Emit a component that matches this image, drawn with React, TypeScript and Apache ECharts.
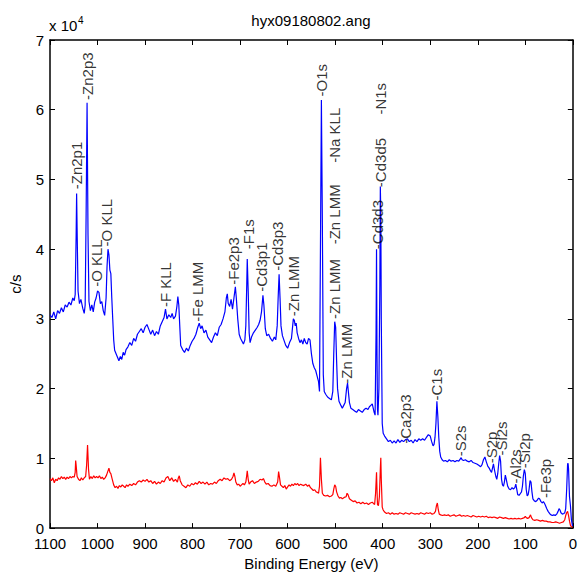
import React, { useEffect, useRef } from 'react';
import * as echarts from 'echarts';

const chartTitle = 'hyx09180802.ang';
const xName = 'Binding Energy (eV)';
const yName = 'c/s';
const yExponent = '4';

// [binding energy (eV), counts (x 10^4 c/s)]
const blue: [number, number][] = [
  [1100, 3.06], [1096, 3.02], [1092, 3.10], [1088, 3.00], [1084, 3.12], [1080, 3.08], [1076, 3.16], [1072, 3.10],
  [1068, 3.20], [1064, 3.17], [1060, 3.24], [1056, 3.20], [1052, 3.30], [1049, 3.26], [1047, 3.35], [1045, 4.2],
  [1044, 4.80], [1043, 4.3], [1041, 3.40], [1038, 3.22], [1035, 3.28], [1031, 3.15], [1028, 3.08], [1026, 3.20],
  [1024, 4.5], [1022, 6.10], [1020, 4.2], [1018, 3.25], [1015, 3.12], [1012, 3.20], [1009, 3.10], [1006, 3.24],
  [1003, 3.30], [1000, 3.40], [997, 3.38], [994, 3.22], [991, 3.25], [988, 3.12], [985, 3.05], [982, 3.3],
  [980, 3.75], [978, 4.0], [976, 3.92], [974, 3.7], [972, 3.65], [970, 3.3], [968, 3.0], [966, 2.7],
  [964, 2.55], [961, 2.50], [958, 2.45], [955, 2.40], [952, 2.46], [949, 2.42], [946, 2.52], [943, 2.48],
  [940, 2.56], [936, 2.60], [932, 2.66], [928, 2.62], [924, 2.72], [920, 2.68], [916, 2.78], [912, 2.82],
  [908, 2.86], [904, 2.80], [900, 2.88], [896, 2.92], [892, 2.85], [888, 2.78], [884, 2.84], [880, 2.76],
  [876, 2.82], [872, 2.78], [868, 2.90], [864, 2.96], [860, 3.02], [857, 3.14], [854, 3.00], [850, 3.06],
  [846, 3.02], [843, 3.08], [840, 3.00], [836, 3.04], [833, 3.18], [831, 3.32], [829, 3.20], [827, 2.90],
  [825, 2.62], [821, 2.56], [817, 2.52], [813, 2.58], [809, 2.54], [805, 2.62], [801, 2.68], [797, 2.72],
  [793, 2.78], [789, 2.88], [786, 2.94], [783, 2.86], [780, 2.90], [776, 2.80], [772, 2.84], [768, 2.74],
  [764, 2.70], [760, 2.66], [756, 2.74], [752, 2.80], [748, 2.76], [744, 2.88], [740, 2.92], [736, 3.00],
  [732, 3.10], [729, 3.30], [727, 3.36], [725, 3.22], [722, 3.18], [719, 3.28], [716, 3.14], [713, 3.30],
  [710, 3.46], [708, 3.30], [705, 3.00], [702, 2.78], [699, 2.72], [696, 2.68], [693, 2.64], [690, 2.70],
  [688, 2.90], [686, 3.50], [685, 3.86], [683, 3.40], [681, 2.80], [679, 2.66], [676, 2.74], [672, 2.80],
  [668, 2.84], [664, 2.88], [661, 2.92], [658, 2.98], [655, 3.10], [652, 3.34], [650, 3.20], [647, 2.86],
  [644, 2.76], [640, 2.78], [636, 2.72], [632, 2.68], [628, 2.74], [625, 2.70], [622, 2.90], [620, 3.30],
  [618, 3.64], [616, 3.30], [614, 2.90], [611, 2.76], [608, 2.70], [604, 2.62], [600, 2.58], [596, 2.66],
  [592, 2.72], [590, 2.86], [588, 3.00], [586, 2.98], [584, 2.90], [582, 2.94], [580, 2.80], [577, 2.72],
  [574, 2.66], [571, 2.70], [568, 2.64], [565, 2.72], [562, 2.66], [559, 2.64], [556, 2.72], [553, 2.70],
  [550, 2.50], [547, 2.36], [544, 2.30], [541, 2.26], [538, 2.18], [535, 2.10], [533, 1.96], [531, 4.0],
  [529, 6.14], [527, 4.4], [525, 2.2], [523, 1.96], [520, 1.92], [516, 1.88], [512, 1.86], [508, 1.84],
  [505, 1.96], [503, 2.5], [501, 2.96], [499, 2.88], [497, 2.4], [495, 2.0], [492, 1.82], [488, 1.76],
  [485, 1.72], [482, 1.76], [479, 1.80], [476, 2.00], [474, 2.08], [472, 1.94], [470, 1.80], [467, 1.72],
  [463, 1.70], [459, 1.68], [455, 1.66], [451, 1.70], [447, 1.68], [443, 1.66], [439, 1.70], [435, 1.72],
  [431, 1.70], [428, 1.74], [425, 1.76], [422, 1.78], [420, 1.72], [418, 1.66], [416, 1.62], [414, 2.8],
  [413, 4.00], [412, 2.5], [411, 1.70], [410, 1.62], [408, 2.0], [406, 3.5], [405, 4.90], [404, 4.5],
  [403, 3.0], [401, 1.50], [399, 1.36], [396, 1.32], [392, 1.28], [388, 1.24], [384, 1.26], [380, 1.22],
  [376, 1.25], [372, 1.22], [368, 1.27], [364, 1.23], [360, 1.26], [356, 1.24], [352, 1.27], [348, 1.28],
  [344, 1.24], [340, 1.26], [336, 1.22], [332, 1.27], [328, 1.24], [324, 1.28], [320, 1.26], [316, 1.28],
  [312, 1.26], [308, 1.30], [304, 1.34], [300, 1.32], [297, 1.24], [294, 1.18], [292, 1.20], [290, 1.30],
  [288, 1.50], [286, 1.82], [284, 1.60], [282, 1.30], [280, 1.10], [278, 1.02], [275, 0.98], [272, 0.96],
  [268, 0.97], [264, 0.95], [260, 0.98], [256, 0.96], [252, 0.97], [248, 0.95], [244, 0.97], [240, 0.96],
  [237, 0.99], [235, 1.01], [233, 0.98], [230, 0.97], [226, 0.98], [222, 0.96], [218, 0.95], [214, 0.97],
  [210, 0.94], [206, 0.93], [202, 0.92], [198, 0.90], [194, 0.88], [191, 0.91], [188, 0.98], [185, 1.02],
  [182, 0.95], [179, 0.89], [176, 0.86], [173, 0.82], [171, 0.80], [169, 0.86], [167, 0.92], [165, 0.84],
  [162, 0.74], [160, 0.70], [158, 0.78], [156, 0.92], [154, 1.04], [152, 0.96], [150, 0.70], [148, 0.62],
  [146, 0.60], [144, 0.66], [142, 0.76], [140, 0.70], [137, 0.60], [134, 0.56], [131, 0.55], [128, 0.58],
  [125, 0.56], [122, 0.58], [120, 0.63], [118, 0.56], [116, 0.48], [113, 0.47], [110, 0.50], [108, 0.52],
  [106, 0.60], [104, 0.75], [102, 0.84], [100, 0.78], [98, 0.55], [96, 0.46], [94, 0.48], [92, 0.56],
  [90, 0.68], [88, 0.66], [86, 0.52], [84, 0.42], [81, 0.39], [78, 0.38], [75, 0.40], [72, 0.43],
  [70, 0.42], [67, 0.38], [64, 0.36], [62, 0.38], [60, 0.36], [58, 0.33], [55, 0.28], [52, 0.24],
  [49, 0.21], [46, 0.19], [43, 0.18], [40, 0.19], [37, 0.18], [34, 0.20], [31, 0.24], [29, 0.28],
  [27, 0.26], [25, 0.22], [22, 0.20], [19, 0.21], [17, 0.22], [15, 0.28], [13, 0.55], [11, 0.92],
  [10, 0.93], [9, 0.85], [7, 0.45], [5, 0.32], [3, 0.12], [1, 0.04], [0, 0.03],
];

const red: [number, number][] = [
  [1100, 0.71], [1097, 0.68], [1094, 0.72], [1091, 0.65], [1088, 0.70], [1085, 0.68], [1082, 0.72], [1079, 0.70],
  [1076, 0.74], [1073, 0.71], [1070, 0.73], [1067, 0.70], [1064, 0.73], [1061, 0.71], [1058, 0.74], [1055, 0.72],
  [1052, 0.74], [1049, 0.73], [1047, 0.80], [1046, 0.97], [1045, 0.90], [1043, 0.74], [1040, 0.70], [1037, 0.68],
  [1034, 0.72], [1031, 0.69], [1028, 0.72], [1025, 0.74], [1023, 0.90], [1021, 1.19], [1019, 0.85], [1017, 0.70],
  [1014, 0.74], [1011, 0.71], [1008, 0.75], [1005, 0.72], [1002, 0.74], [999, 0.72], [996, 0.75], [993, 0.71],
  [990, 0.73], [987, 0.70], [984, 0.72], [981, 0.76], [978, 0.82], [976, 0.86], [974, 0.80], [972, 0.78],
  [969, 0.70], [966, 0.62], [963, 0.58], [960, 0.60], [957, 0.57], [954, 0.61], [951, 0.59], [948, 0.62],
  [945, 0.60], [942, 0.58], [939, 0.62], [936, 0.60], [932, 0.63], [928, 0.61], [924, 0.64], [920, 0.62],
  [916, 0.66], [912, 0.68], [908, 0.66], [904, 0.69], [900, 0.67], [896, 0.70], [892, 0.66], [888, 0.68],
  [884, 0.64], [880, 0.67], [876, 0.63], [872, 0.66], [868, 0.64], [864, 0.68], [860, 0.66], [856, 0.72],
  [852, 0.74], [848, 0.68], [844, 0.72], [840, 0.67], [836, 0.70], [832, 0.66], [830, 0.72], [828, 0.75],
  [826, 0.68], [822, 0.62], [818, 0.60], [814, 0.58], [810, 0.62], [806, 0.60], [802, 0.64], [798, 0.62],
  [794, 0.65], [790, 0.63], [786, 0.67], [782, 0.64], [778, 0.66], [774, 0.63], [770, 0.66], [766, 0.62],
  [762, 0.64], [758, 0.63], [754, 0.66], [750, 0.64], [746, 0.68], [742, 0.70], [738, 0.68], [734, 0.72],
  [730, 0.70], [726, 0.71], [722, 0.68], [718, 0.70], [715, 0.74], [713, 0.79], [711, 0.74], [709, 0.66],
  [706, 0.62], [703, 0.63], [700, 0.60], [697, 0.62], [694, 0.64], [691, 0.62], [688, 0.66], [686, 0.76],
  [685, 0.82], [683, 0.70], [681, 0.63], [678, 0.66], [674, 0.68], [670, 0.64], [666, 0.66], [662, 0.67],
  [658, 0.70], [654, 0.69], [651, 0.71], [648, 0.66], [645, 0.63], [641, 0.64], [637, 0.61], [633, 0.60],
  [629, 0.62], [625, 0.60], [621, 0.66], [619, 0.81], [617, 0.72], [615, 0.62], [612, 0.60], [609, 0.58],
  [606, 0.61], [603, 0.56], [600, 0.59], [597, 0.62], [594, 0.60], [591, 0.63], [588, 0.61], [585, 0.64],
  [582, 0.62], [579, 0.64], [576, 0.61], [573, 0.63], [570, 0.62], [566, 0.61], [562, 0.63], [558, 0.60],
  [555, 0.62], [552, 0.58], [549, 0.56], [546, 0.54], [543, 0.55], [540, 0.52], [537, 0.51], [535, 0.50],
  [533, 0.60], [531, 1.01], [529, 0.70], [527, 0.50], [524, 0.47], [520, 0.46], [516, 0.47], [512, 0.45],
  [508, 0.46], [505, 0.48], [503, 0.56], [501, 0.62], [499, 0.60], [497, 0.52], [494, 0.46], [491, 0.43],
  [488, 0.44], [485, 0.42], [481, 0.44], [477, 0.45], [475, 0.50], [473, 0.48], [470, 0.42], [466, 0.40],
  [462, 0.38], [458, 0.39], [454, 0.36], [450, 0.37], [446, 0.35], [442, 0.37], [438, 0.35], [434, 0.36],
  [430, 0.34], [426, 0.36], [422, 0.37], [419, 0.35], [417, 0.34], [415, 0.50], [413, 0.80], [412, 0.55],
  [411, 0.34], [409, 0.32], [407, 0.45], [405, 0.85], [404, 1.01], [403, 0.70], [401, 0.30], [399, 0.26],
  [396, 0.23], [392, 0.21], [388, 0.22], [384, 0.20], [380, 0.22], [376, 0.20], [372, 0.21], [368, 0.20],
  [364, 0.22], [360, 0.21], [356, 0.20], [352, 0.22], [348, 0.21], [344, 0.20], [340, 0.22], [336, 0.21],
  [332, 0.20], [328, 0.21], [324, 0.20], [320, 0.22], [316, 0.21], [312, 0.20], [308, 0.22], [304, 0.21],
  [300, 0.22], [296, 0.20], [292, 0.21], [289, 0.24], [287, 0.32], [285, 0.36], [283, 0.26], [281, 0.20],
  [278, 0.19], [274, 0.18], [270, 0.19], [266, 0.18], [262, 0.19], [258, 0.17], [254, 0.18], [250, 0.19],
  [246, 0.17], [242, 0.18], [238, 0.19], [234, 0.17], [230, 0.18], [226, 0.17], [222, 0.18], [218, 0.17],
  [214, 0.16], [210, 0.18], [206, 0.17], [202, 0.16], [198, 0.17], [194, 0.16], [190, 0.17], [186, 0.16],
  [182, 0.17], [178, 0.15], [174, 0.16], [170, 0.15], [166, 0.16], [162, 0.15], [158, 0.14], [154, 0.16],
  [150, 0.15], [146, 0.14], [142, 0.15], [138, 0.14], [134, 0.13], [130, 0.14], [126, 0.13], [122, 0.14],
  [118, 0.13], [114, 0.14], [110, 0.13], [106, 0.14], [102, 0.15], [100, 0.17], [98, 0.15], [95, 0.14],
  [92, 0.15], [89, 0.19], [87, 0.15], [84, 0.12], [80, 0.11], [76, 0.12], [72, 0.11], [68, 0.10],
  [64, 0.11], [60, 0.10], [56, 0.10], [52, 0.09], [48, 0.09], [44, 0.08], [40, 0.08], [36, 0.09],
  [32, 0.08], [28, 0.07], [24, 0.08], [20, 0.09], [17, 0.12], [15, 0.18], [13, 0.22], [11, 0.24],
  [9, 0.18], [7, 0.10], [5, 0.04], [3, 0.02], [1, 0.01], [0, 0.01],
];

// [label, binding energy (eV), height where the label starts (x 10^4)]
const peakLabels: [string, number, number][] = [
  ['Zn2p1', 1044, 4.86], ['Zn2p3', 1021, 6.14], ['O KLL', 1002, 3.46], ['O KLL', 981, 4.04],
  ['F KLL', 856, 3.17], ['Fe LMM', 789, 2.96], ['Fe2p3', 714, 3.49], ['F1s', 683, 4.0],
  ['Cd3p1', 656, 3.39], ['Cd3p3', 622, 3.69], ['Zn LMM', 587, 3.04], ['O1s', 529, 6.19],
  ['Na KLL', 501, 5.24], ['Zn LMM', 502, 4.07], ['Zn LMM', 502, 3.0], ['Zn LMM', 477, 2.07],
  ['Cd3d3', 412, 4.0], ['Cd3d5', 404, 4.89], ['N1s', 404, 5.93], ['Ca2p3', 351, 1.21],
  ['C1s', 286, 1.83], ['S2s', 236, 1.03], ['S2p', 172, 0.93], ['Si2s', 151, 1.04],
  ['Al2s', 120, 0.64], ['Si2p', 101, 0.86], ['Fe3p', 57, 0.43],
];

const FONT = '"Liberation Sans", Arial, Helvetica, sans-serif';

export default function App() {
  const ref = useRef<HTMLDivElement>(null);

  useEffect(() => {
    const chart = echarts.init(ref.current as HTMLDivElement, null, { renderer: 'svg' });
    const lineStyle = { color: '#000', width: 1.5 };
    const xBase = {
      type: 'value',
      min: 0,
      max: 1100,
      interval: 100,
      inverse: true,
      splitLine: { show: false },
      axisLine: { show: true, onZero: false, lineStyle },
      axisTick: { show: true, inside: true, length: 5, lineStyle: { color: '#000', width: 1 } },
    };
    const yBase = {
      type: 'value',
      min: 0,
      max: 7,
      interval: 1,
      splitLine: { show: false },
      axisLine: { show: true, onZero: false, lineStyle },
      axisTick: { show: true, inside: true, length: 5, lineStyle: { color: '#000', width: 1 } },
    };
    chart.setOption({
      animation: false,
      backgroundColor: '#fff',
      textStyle: { fontFamily: FONT },
      grid: { left: 48, right: 5, top: 40, bottom: 46, containLabel: false },
      xAxis: [
        {
          ...xBase,
          position: 'bottom',
          axisLabel: { color: '#000', fontSize: 15, margin: 8, fontFamily: FONT, formatter: (v: number) => String(v) },
          name: xName,
          nameLocation: 'middle',
          nameGap: 26,
          nameTextStyle: { color: '#000', fontSize: 15, fontFamily: FONT },
        },
        { ...xBase, position: 'top', axisLabel: { show: false } },
      ],
      yAxis: [
        {
          ...yBase,
          position: 'left',
          axisLabel: { color: '#000', fontSize: 15, margin: 6, fontFamily: FONT, formatter: (v: number) => String(v) },
          name: yName,
          nameLocation: 'middle',
          nameGap: 27,
          nameTextStyle: { color: '#000', fontSize: 15, fontFamily: FONT },
        },
        { ...yBase, position: 'right', axisLabel: { show: false } },
      ],
      graphic: [
        {
          type: 'text',
          x: 311,
          y: 20,
          style: { text: chartTitle, font: `15px ${FONT}`, fill: '#000', textAlign: 'center', textVerticalAlign: 'middle' },
        },
        {
          type: 'text',
          x: 49,
          y: 25,
          style: { text: 'x 10', font: `15px ${FONT}`, fill: '#000', textAlign: 'left', textVerticalAlign: 'middle' },
        },
        {
          type: 'text',
          x: 78,
          y: 20,
          style: { text: yExponent, font: `10px ${FONT}`, fill: '#000', textAlign: 'left', textVerticalAlign: 'middle' },
        },
      ],
      series: [
        {
          type: 'line',
          data: red,
          showSymbol: false,
          symbol: 'none',
          lineStyle: { color: '#ff0000', width: 1.2 },
          silent: true,
          z: 2,
        },
        {
          type: 'line',
          data: blue,
          showSymbol: false,
          symbol: 'none',
          lineStyle: { color: '#0000ff', width: 1.2 },
          silent: true,
          z: 3,
        },
        {
          type: 'scatter',
          data: peakLabels.map(([name, e, y]) => [e, y, name]),
          symbolSize: 0,
          silent: true,
          z: 4,
          label: {
            show: true,
            position: 'inside',
            rotate: 90,
            align: 'left',
            verticalAlign: 'middle',
            color: '#000',
            fontSize: 15,
            fontFamily: FONT,
            formatter: (p: any) => '-' + p.data[2],
          },
        },
      ],
    });
    return () => chart.dispose();
  }, []);

  return (
    <div
      ref={ref}
      style={{ position: 'fixed', left: 0, top: 0, width: 580, height: 576, background: '#fff' }}
    />
  );
}
